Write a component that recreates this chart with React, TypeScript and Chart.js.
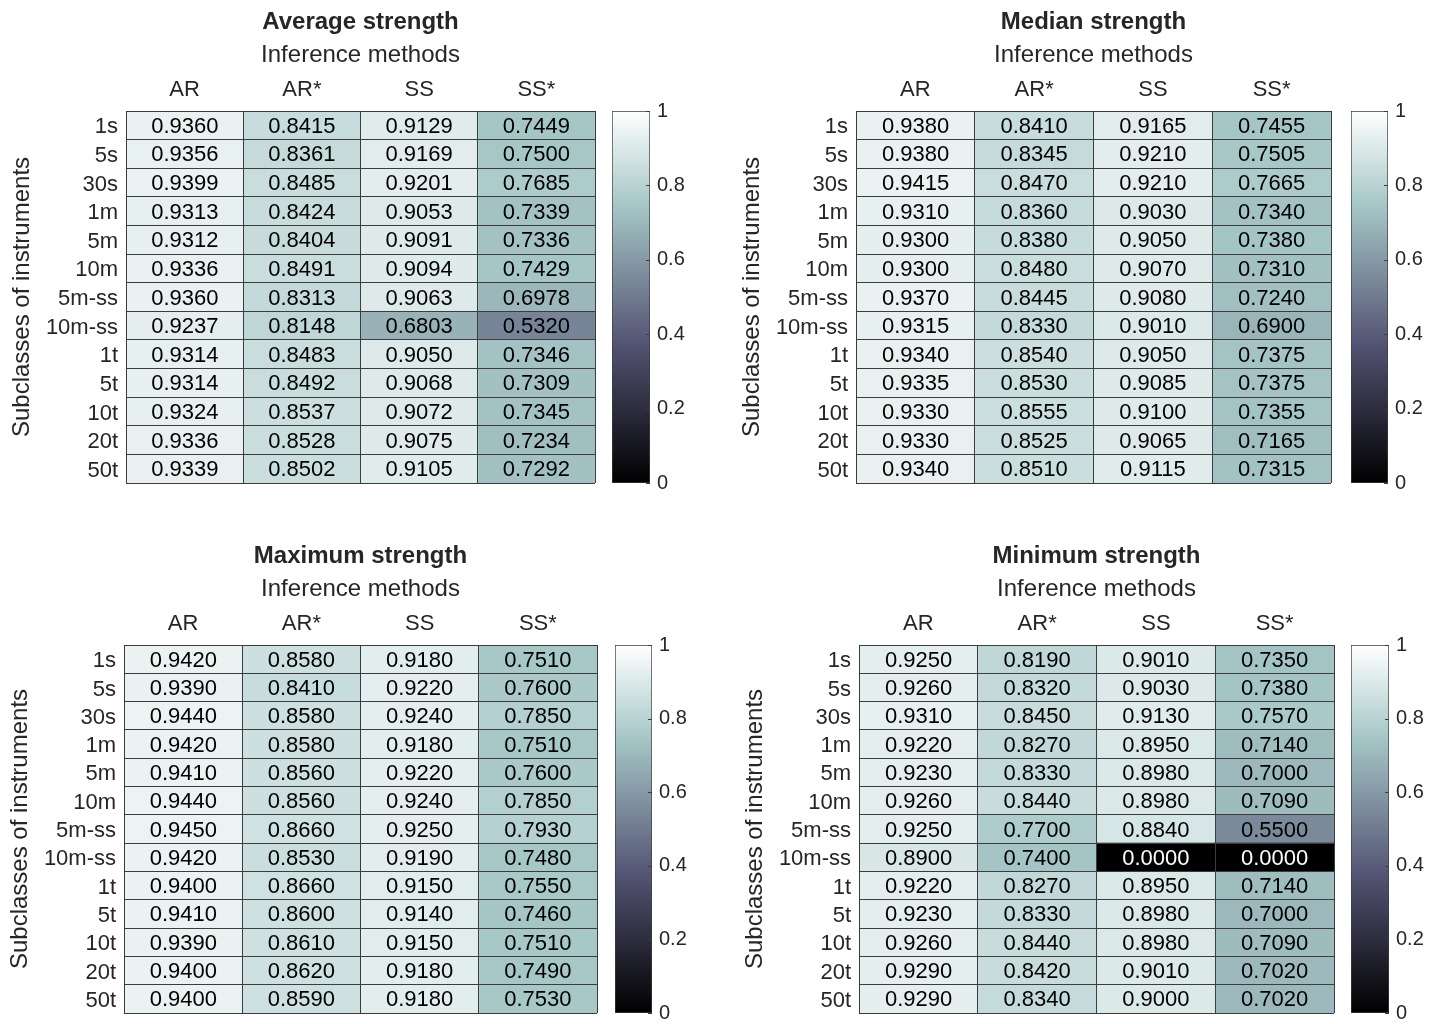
import React, { useEffect, useRef } from 'react';
import { Chart, registerables } from 'chart.js';

Chart.register(...registerables);

// ---------------- data ----------------
const rowLabels = ['1s', '5s', '30s', '1m', '5m', '10m', '5m-ss', '10m-ss', '1t', '5t', '10t', '20t', '50t'];
const methodLabels = ['AR', 'AR*', 'SS', 'SS*'];
const colorbarTicks = [0, 0.2, 0.4, 0.6, 0.8, 1];

const averageStrength = [
  [0.9360, 0.8415, 0.9129, 0.7449],
  [0.9356, 0.8361, 0.9169, 0.7500],
  [0.9399, 0.8485, 0.9201, 0.7685],
  [0.9313, 0.8424, 0.9053, 0.7339],
  [0.9312, 0.8404, 0.9091, 0.7336],
  [0.9336, 0.8491, 0.9094, 0.7429],
  [0.9360, 0.8313, 0.9063, 0.6978],
  [0.9237, 0.8148, 0.6803, 0.5320],
  [0.9314, 0.8483, 0.9050, 0.7346],
  [0.9314, 0.8492, 0.9068, 0.7309],
  [0.9324, 0.8537, 0.9072, 0.7345],
  [0.9336, 0.8528, 0.9075, 0.7234],
  [0.9339, 0.8502, 0.9105, 0.7292],
];

const medianStrength = [
  [0.9380, 0.8410, 0.9165, 0.7455],
  [0.9380, 0.8345, 0.9210, 0.7505],
  [0.9415, 0.8470, 0.9210, 0.7665],
  [0.9310, 0.8360, 0.9030, 0.7340],
  [0.9300, 0.8380, 0.9050, 0.7380],
  [0.9300, 0.8480, 0.9070, 0.7310],
  [0.9370, 0.8445, 0.9080, 0.7240],
  [0.9315, 0.8330, 0.9010, 0.6900],
  [0.9340, 0.8540, 0.9050, 0.7375],
  [0.9335, 0.8530, 0.9085, 0.7375],
  [0.9330, 0.8555, 0.9100, 0.7355],
  [0.9330, 0.8525, 0.9065, 0.7165],
  [0.9340, 0.8510, 0.9115, 0.7315],
];

const maximumStrength = [
  [0.9420, 0.8580, 0.9180, 0.7510],
  [0.9390, 0.8410, 0.9220, 0.7600],
  [0.9440, 0.8580, 0.9240, 0.7850],
  [0.9420, 0.8580, 0.9180, 0.7510],
  [0.9410, 0.8560, 0.9220, 0.7600],
  [0.9440, 0.8560, 0.9240, 0.7850],
  [0.9450, 0.8660, 0.9250, 0.7930],
  [0.9420, 0.8530, 0.9190, 0.7480],
  [0.9400, 0.8660, 0.9150, 0.7550],
  [0.9410, 0.8600, 0.9140, 0.7460],
  [0.9390, 0.8610, 0.9150, 0.7510],
  [0.9400, 0.8620, 0.9180, 0.7490],
  [0.9400, 0.8590, 0.9180, 0.7530],
];

const minimumStrength = [
  [0.9250, 0.8190, 0.9010, 0.7350],
  [0.9260, 0.8320, 0.9030, 0.7380],
  [0.9310, 0.8450, 0.9130, 0.7570],
  [0.9220, 0.8270, 0.8950, 0.7140],
  [0.9230, 0.8330, 0.8980, 0.7000],
  [0.9260, 0.8440, 0.8980, 0.7090],
  [0.9250, 0.7700, 0.8840, 0.5500],
  [0.8900, 0.7400, 0.0000, 0.0000],
  [0.9220, 0.8270, 0.8950, 0.7140],
  [0.9230, 0.8330, 0.8980, 0.7000],
  [0.9260, 0.8440, 0.8980, 0.7090],
  [0.9290, 0.8420, 0.9010, 0.7020],
  [0.9290, 0.8340, 0.9000, 0.7020],
];

// ---------------- styles / layout ----------------
const FONT = '"Liberation Sans", Arial, Helvetica, sans-serif';
const TEXT = '#262626';
const GRID = '#3c3c3c';

type Geo = { boxL: number; boxR: number; boxT: number; boxB: number; cbL: number; cbR: number };

const panels: { title: string; values: number[][]; geo: Geo }[] = [
  { title: 'Average strength', values: averageStrength, geo: { boxL: 126, boxR: 595, boxT: 111, boxB: 483, cbL: 612, cbR: 650 } },
  { title: 'Median strength', values: medianStrength, geo: { boxL: 856, boxR: 1331, boxT: 111, boxB: 483, cbL: 1351, cbR: 1388 } },
  { title: 'Maximum strength', values: maximumStrength, geo: { boxL: 124, boxR: 597, boxT: 645, boxB: 1013, cbL: 615, cbR: 652 } },
  { title: 'Minimum strength', values: minimumStrength, geo: { boxL: 859, boxR: 1334, boxT: 645, boxB: 1013, cbL: 1351, cbR: 1389 } },
];

const Y_AXIS_W = 126;
const TOP_H = 111;
const PAD_R = 5;
const PAD_B = 7;
const TITLE_PAD_TOP = 7.6;
const TITLE_BOX_H = 28.8 + TITLE_PAD_TOP;

// MATLAB "bone" colormap (continuous form)
function boneRGB(v: number): [number, number, number] {
  const x = Math.max(0, Math.min(1, v));
  const clamp = (t: number) => Math.max(0, Math.min(1, t));
  const hr = clamp(x / 0.375);
  const hg = clamp((x - 0.375) / 0.375);
  const hb = clamp((x - 0.75) / 0.25);
  return [(7 * x + hb) / 8, (7 * x + hg) / 8, (7 * x + hr) / 8];
}
function bone(v: number): string {
  const [r, g, b] = boneRGB(v);
  return `rgb(${Math.round(r * 255)},${Math.round(g * 255)},${Math.round(b * 255)})`;
}

function cellTextPlugin(values: number[][]) {
  return {
    id: 'cellText',
    afterDatasetsDraw(chart: any) {
      const ctx = chart.ctx;
      ctx.save();
      ctx.font = `22px ${FONT}`;
      ctx.textAlign = 'center';
      ctx.textBaseline = 'middle';
      chart.data.datasets.forEach((_ds: any, j: number) => {
        chart.getDatasetMeta(j).data.forEach((bar: any, r: number) => {
          const p = bar.getProps(['x', 'y', 'base'], true);
          const v = values[r][j];
          ctx.fillStyle = v < 0.35 ? '#ffffff' : '#000000';
          ctx.fillText(v.toFixed(4), (p.x + p.base) / 2, p.y + 1.5);
        });
      });
      ctx.restore();
    },
  };
}

// small inward tick marks on the colorbar's right edge
const colorbarTickPlugin = {
  id: 'colorbarTicks',
  afterDatasetsDraw(chart: any) {
    const s = chart.scales.y;
    const ca = chart.chartArea;
    const ctx = chart.ctx;
    ctx.save();
    ctx.strokeStyle = GRID;
    ctx.lineWidth = 1;
    colorbarTicks.forEach((v) => {
      const y = Math.round(s.getPixelForValue(v)) + 0.5;
      ctx.beginPath();
      ctx.moveTo(ca.right - 4, y);
      ctx.lineTo(ca.right, y);
      ctx.stroke();
    });
    ctx.restore();
  },
};

function Heatmap({ title, values, geo }: { title: string; values: number[][]; geo: Geo }) {
  const ref = useRef<HTMLCanvasElement | null>(null);
  const boxW = geo.boxR - geo.boxL;
  const boxH = geo.boxB - geo.boxT;
  const W = Y_AXIS_W + boxW + PAD_R;
  const H = TOP_H + boxH + PAD_B;

  useEffect(() => {
    if (!ref.current) return;
    const chart = new Chart(ref.current, {
      type: 'bar',
      data: {
        labels: rowLabels,
        datasets: methodLabels.map((m, j) => ({
          label: m,
          data: rowLabels.map(() => 1),
          backgroundColor: values.map((row) => bone(row[j])),
          borderWidth: 0,
          barPercentage: 1,
          categoryPercentage: 1,
        })),
      },
      options: {
        indexAxis: 'y',
        responsive: false,
        animation: false,
        events: [],
        layout: { padding: { left: 0, top: 0, right: PAD_R, bottom: PAD_B } },
        plugins: {
          legend: { display: false },
          tooltip: { enabled: false },
          title: {
            display: true,
            text: title,
            fullSize: false,
            color: TEXT,
            font: { family: FONT, size: 24, weight: 'bold' },
            padding: { top: TITLE_PAD_TOP, bottom: 0 },
          },
        },
        scales: {
          x: {
            type: 'linear',
            position: 'top',
            min: 0,
            max: methodLabels.length,
            stacked: true,
            ticks: {
              stepSize: 1,
              autoSkip: false,
              maxRotation: 0,
              minRotation: 0,
              labelOffset: boxW / methodLabels.length / 2,
              padding: 8,
              color: TEXT,
              font: { family: FONT, size: 22 },
              callback: (v: any) => methodLabels[v as number] ?? '',
            },
            grid: { color: GRID, lineWidth: 1, drawTicks: false, z: 1 },
            border: { display: true, color: GRID, z: 2 },
            title: {
              display: true,
              text: 'Inference methods',
              color: TEXT,
              font: { family: FONT, size: 24 },
              padding: { top: 5, bottom: 0 },
            },
            afterFit: (s: any) => {
              s.height = TOP_H - TITLE_BOX_H;
              s.paddingLeft = 0;
              s.paddingRight = 0;
            },
          },
          y: {
            type: 'category',
            position: 'left',
            stacked: true,
            offset: true,
            ticks: { autoSkip: false, padding: 8, labelOffset: 2, color: TEXT, font: { family: FONT, size: 22 } },
            grid: { color: GRID, lineWidth: 1, drawTicks: false, z: 1, offset: true },
            border: { display: true, color: GRID, z: 2 },
            title: {
              display: true,
              text: 'Subclasses of instruments',
              color: TEXT,
              font: { family: FONT, size: 24 },
              padding: { top: 7.6, bottom: 0 },
            },
            afterFit: (s: any) => {
              s.width = Y_AXIS_W;
              s.paddingTop = 0;
              s.paddingBottom = 0;
            },
          },
        },
      } as any,
      plugins: [cellTextPlugin(values)],
    });
    return () => chart.destroy();
  }, []);

  return (
    <canvas
      ref={ref}
      width={W}
      height={H}
      style={{ position: 'absolute', left: geo.boxL - Y_AXIS_W, top: geo.boxT - TOP_H, width: W, height: H }}
    />
  );
}

function Colorbar({ geo }: { geo: Geo }) {
  const ref = useRef<HTMLCanvasElement | null>(null);
  const padL = 7;
  const axisW = 50;
  const padTB = 12;
  const W = padL + (geo.cbR - geo.cbL) + axisW;
  const H = padTB * 2 + (geo.boxB - geo.boxT);

  useEffect(() => {
    if (!ref.current) return;
    const lo = colorbarTicks[0];
    const hi = colorbarTicks[colorbarTicks.length - 1];
    const chart = new Chart(ref.current, {
      type: 'bar',
      data: {
        labels: [''],
        datasets: [
          {
            data: [[lo, hi]],
            backgroundColor: (c: any) => {
              const ca = c.chart.chartArea;
              if (!ca) return '#888';
              const g = c.chart.ctx.createLinearGradient(0, ca.bottom, 0, ca.top);
              [0, 0.375, 0.75, 1].forEach((s) => g.addColorStop(s, bone(lo + s * (hi - lo))));
              return g;
            },
            borderColor: GRID,
            borderWidth: 1,
            borderSkipped: false,
            barPercentage: 1,
            categoryPercentage: 1,
          },
        ],
      },
      options: {
        responsive: false,
        animation: false,
        events: [],
        layout: { padding: { left: padL, top: padTB, right: 0, bottom: padTB } },
        plugins: { legend: { display: false }, tooltip: { enabled: false } },
        scales: {
          x: { display: false, offset: true },
          y: {
            position: 'right',
            min: lo,
            max: hi,
            afterBuildTicks: (s: any) => {
              s.ticks = colorbarTicks.map((v) => ({ value: v }));
            },
            ticks: {
              padding: 7,
              color: TEXT,
              font: { family: FONT, size: 20 },
              callback: (v: any) => String(Math.round((v as number) * 10) / 10),
            },
            grid: { display: false, drawOnChartArea: false, drawTicks: false },
            border: { display: false },
            afterFit: (s: any) => {
              s.width = axisW;
              s.paddingTop = 0;
              s.paddingBottom = 0;
            },
          },
        },
      } as any,
      plugins: [colorbarTickPlugin],
    });
    return () => chart.destroy();
  }, []);

  return (
    <canvas
      ref={ref}
      width={W}
      height={H}
      style={{ position: 'absolute', left: geo.cbL - padL, top: geo.boxT - padTB, width: W, height: H }}
    />
  );
}

export default function App() {
  return (
    <div
      style={{
        position: 'absolute',
        left: 0,
        top: 0,
        width: 1439,
        height: 1024,
        overflow: 'hidden',
        background: '#ffffff',
      }}
    >
      {panels.map((p) => (
        <React.Fragment key={p.title}>
          <Heatmap title={p.title} values={p.values} geo={p.geo} />
          <Colorbar geo={p.geo} />
        </React.Fragment>
      ))}
    </div>
  );
}
